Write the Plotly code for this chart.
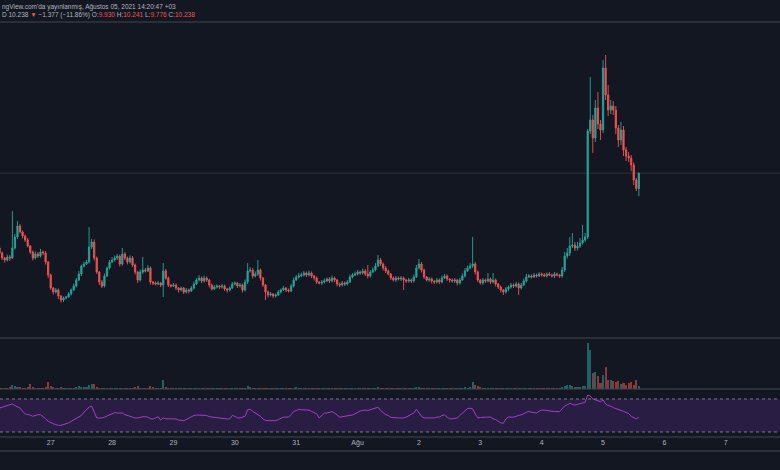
import pandas as pd
import plotly.graph_objects as go

# hourly candles, Jul 26 04:00 -> Aug 5 14:00 (2021)
first_open = 8.74
closes = [
    8.64, 8.54, 8.50, 8.56, 8.54, 8.74, 8.96, 9.18, 9.06, 8.98,
    8.90, 8.78, 8.66, 8.54, 8.62, 8.58, 8.66, 8.64, 8.46, 8.20,
    7.94, 7.86, 7.90, 7.78, 7.70, 7.74, 7.76, 7.82, 7.90, 7.98,
    8.10, 8.22, 8.38, 8.42, 8.46, 8.76, 8.86, 8.54, 8.26, 8.06,
    7.98, 8.18, 8.34, 8.46, 8.50, 8.54, 8.58, 8.42, 8.62, 8.54,
    8.46, 8.54, 8.40, 8.26, 8.10, 8.26, 8.30, 8.28, 8.34, 8.06,
    8.04, 8.02, 8.04, 8.00, 8.28, 8.14, 8.00, 7.98, 8.00, 7.94,
    7.90, 7.94, 7.86, 7.90, 7.88, 7.94, 8.02, 8.10, 8.14, 8.08,
    8.14, 8.10, 8.00, 7.92, 7.96, 7.98, 7.96, 7.98, 7.92, 7.90,
    7.94, 8.02, 8.04, 7.98, 8.00, 7.90, 8.06, 8.28, 8.30, 8.18,
    8.22, 8.30, 8.14, 8.00, 7.86, 7.80, 7.82, 7.78, 7.80, 7.86,
    7.90, 7.94, 7.90, 7.88, 7.98, 8.10, 8.16, 8.18, 8.20, 8.24,
    8.20, 8.24, 8.18, 8.14, 8.06, 8.04, 8.06, 8.08, 8.12, 8.08,
    8.14, 8.10, 8.02, 8.00, 8.04, 8.02, 8.06, 8.16, 8.20, 8.22,
    8.26, 8.24, 8.28, 8.22, 8.18, 8.26, 8.30, 8.38, 8.50, 8.42,
    8.34, 8.28, 8.22, 8.14, 8.10, 8.14, 8.12, 8.14, 8.10, 8.08,
    8.10, 8.08, 8.16, 8.34, 8.42, 8.30, 8.16, 8.10, 8.12, 8.08,
    8.06, 8.10, 8.06, 8.14, 8.18, 8.12, 8.10, 8.08, 8.10, 8.04,
    8.10, 8.18, 8.28, 8.34, 8.38, 8.42, 8.26, 8.10, 8.04, 8.10,
    8.08, 8.12, 8.06, 8.10, 8.02, 7.96, 7.90, 7.86, 7.92, 7.96,
    8.00, 7.98, 8.02, 7.94, 8.00, 8.08, 8.16, 8.18, 8.16, 8.20,
    8.18, 8.22, 8.20, 8.18, 8.22, 8.20, 8.18, 8.22, 8.20, 8.18,
    8.30, 8.58, 8.64, 8.78, 8.80, 8.74, 8.78, 8.84, 8.90, 8.96,
    11.08, 11.30, 10.94, 11.54, 11.22, 11.10, 12.34, 11.80, 11.50, 11.58,
    11.50, 11.14, 10.90, 11.10, 10.70, 10.58, 10.54, 10.40, 10.10, 9.93,
    10.238,
]

# wick lengths above / below the body, in cents
wick_up = [
    4, 3, 2, 5, 4, 74, 6, 10, 4, 3,
    3, 4, 2, 3, 5, 4, 6, 3, 4, 2,
    3, 2, 4, 3, 2, 3, 2, 4, 3, 5,
    4, 6, 3, 5, 4, 40, 6, 5, 3, 2,
    4, 5, 3, 4, 6, 5, 4, 3, 12, 4,
    3, 5, 4, 3, 2, 5, 26, 4, 6, 3,
    2, 3, 4, 2, 16, 4, 3, 2, 4, 3,
    2, 3, 2, 4, 3, 4, 5, 4, 6, 3,
    5, 3, 2, 3, 4, 3, 2, 4, 3, 2,
    3, 4, 3, 2, 4, 3, 5, 16, 6, 4,
    5, 20, 3, 2, 2, 3, 4, 2, 3, 4,
    3, 4, 2, 3, 4, 5, 4, 6, 5, 4,
    3, 5, 3, 2, 3, 2, 4, 5, 3, 4,
    5, 3, 2, 3, 4, 3, 4, 5, 4, 5,
    4, 3, 5, 4, 18, 4, 5, 6, 10, 4,
    3, 4, 3, 2, 3, 4, 3, 4, 3, 2,
    4, 3, 5, 6, 10, 4, 3, 2, 4, 3,
    2, 4, 3, 5, 4, 3, 2, 3, 4, 2,
    4, 5, 6, 5, 6, 54, 4, 3, 2, 4,
    3, 12, 3, 14, 3, 2, 3, 2, 4, 3,
    4, 3, 4, 3, 4, 5, 6, 4, 3, 4,
    3, 4, 3, 4, 3, 4, 3, 4, 3, 2,
    6, 8, 10, 18, 24, 6, 8, 10, 30, 8,
    4, 86, 10, 16, 32, 8, 16, 26, 20, 12,
    10, 8, 6, 16, 8, 6, 8, 6, 5, 4,
    0.3,
]
wick_dn = [
    3, 4, 5, 3, 6, 2, 3, 4, 3, 5,
    4, 3, 4, 5, 3, 4, 3, 4, 5, 6,
    4, 5, 3, 6, 5, 4, 3, 2, 3, 2,
    3, 2, 4, 3, 2, 3, 4, 5, 4, 6,
    4, 3, 2, 3, 2, 3, 4, 5, 3, 4,
    5, 3, 4, 5, 6, 3, 4, 3, 2, 5,
    4, 3, 2, 4, 24, 3, 4, 3, 2, 4,
    5, 3, 4, 3, 5, 2, 3, 2, 3, 4,
    3, 4, 5, 3, 2, 3, 4, 3, 4, 5,
    3, 2, 3, 4, 3, 5, 3, 4, 3, 5,
    3, 4, 5, 4, 16, 5, 3, 4, 3, 2,
    3, 2, 4, 3, 2, 3, 2, 3, 2, 3,
    4, 3, 4, 5, 4, 3, 4, 3, 2, 4,
    3, 4, 5, 4, 3, 4, 3, 2, 3, 2,
    3, 4, 3, 4, 5, 3, 2, 3, 2, 4,
    5, 4, 3, 4, 3, 4, 3, 4, 20, 4,
    3, 4, 3, 2, 3, 5, 4, 3, 4, 5,
    4, 3, 4, 3, 2, 4, 5, 3, 4, 5,
    3, 2, 3, 2, 3, 4, 5, 4, 3, 4,
    4, 3, 4, 3, 5, 4, 5, 6, 3, 4,
    3, 4, 3, 14, 3, 2, 3, 2, 3, 2,
    3, 2, 3, 2, 3, 2, 3, 4, 3, 4,
    3, 4, 5, 6, 4, 6, 5, 4, 3, 4,
    4, 6, 30, 8, 10, 20, 6, 10, 12, 8,
    10, 12, 14, 10, 12, 10, 8, 12, 10, 5,
    15.4,
]

# volume (thousands)
volume = [
    1.5, 1, 1, 1.5, 2, 4, 3, 2.5, 2, 1.5,
    1.5, 2, 5, 2, 1.5, 1.5, 1, 1.5, 2, 7,
    3, 2, 1.5, 1.5, 2, 1.5, 1, 1, 1, 1.5,
    2, 3, 2.5, 2, 2, 4, 5, 5, 2, 1.5,
    1.5, 1.5, 1, 1, 1, 1.5, 1, 1, 1.5, 1,
    1, 1, 1, 2.5, 3, 1.5, 1, 1, 1, 3,
    2, 1, 1, 1.5, 9, 2, 1.5, 1, 1, 1,
    1, 1, 0.8, 0.8, 0.8, 1, 0.8, 0.8, 1, 0.8,
    0.8, 0.8, 1, 1, 0.8, 0.8, 0.8, 0.8, 0.8, 0.8,
    0.8, 1, 0.8, 0.8, 0.8, 1, 1.5, 3, 2, 1,
    1, 1.5, 1, 1, 1.5, 1, 0.8, 0.8, 0.8, 0.8,
    0.8, 0.8, 0.8, 0.8, 1, 1.5, 2, 1.5, 1, 1,
    1, 0.8, 1, 0.8, 1, 1.5, 1, 0.8, 0.8, 0.8,
    0.8, 0.8, 1, 1, 0.8, 0.8, 0.8, 1, 1, 1,
    1, 0.8, 1, 1, 1.5, 1, 1, 1.5, 2, 1.5,
    1, 1, 1, 1, 1, 0.8, 1, 0.8, 1.5, 1,
    1, 0.8, 1, 2, 2, 1.5, 1.5, 1, 0.8, 1,
    1, 0.8, 1, 1, 1, 0.8, 0.8, 0.8, 1, 1,
    1, 1.5, 2, 1.5, 2, 7, 4, 3, 2, 1.5,
    1.5, 1.5, 1, 1.5, 1, 1, 1, 1.5, 1, 1,
    1, 0.8, 1, 1.5, 1, 1.5, 1.5, 1, 1, 1,
    1, 1, 1, 1, 1, 1, 1, 1, 1, 1.5,
    2, 3, 4, 4, 3, 2, 2.5, 2.5, 3, 3,
    46, 39, 16, 17, 13, 6, 14, 22, 9, 9,
    8, 7, 8, 5, 6, 4, 6, 7, 4, 9,
    3,
]

rsi = [
    59, 60, 61, 62, 63, 64, 62, 60, 59, 55,
    52, 51, 50.5, 49, 50, 51, 51, 49, 46, 43,
    41, 40, 39, 38, 38, 39, 40, 41, 43, 45,
    46, 48, 50, 54, 57, 60, 61.5, 55, 47, 47,
    47, 48, 49.5, 50.6, 52, 53.4, 53, 53, 53, 51,
    50, 49, 48, 47, 47, 48, 48.5, 48.5, 48, 46,
    45.8, 47, 48.5, 44.5, 47, 46, 45.8, 46, 45.8, 45.8,
    44.5, 44, 43.7, 45, 47, 48.5, 50, 50.6, 50.6, 50.6,
    50.6, 50, 48.5, 48, 47.5, 47, 46.5, 46, 46, 45.8,
    45.8, 50, 49, 47, 47, 48, 49, 57, 57.5, 55,
    53, 52, 49, 45.8, 44, 43.7, 43.7, 43.7, 43.7, 45,
    47, 48, 48, 48, 51, 55, 56, 57.5, 57, 56.7,
    56.7, 56.5, 55, 53.5, 52, 47, 50, 53, 53, 54,
    54.7, 53, 50, 48, 48.5, 49, 49.5, 50, 50.6, 52,
    54, 55.5, 56, 56.5, 56, 57, 57.5, 58.5, 60, 56,
    53, 51, 50, 47.8, 47.5, 47, 47, 47, 47, 48,
    49.5, 50.6, 53, 57.5, 53, 49, 47, 47, 47, 47,
    47, 48, 48, 50, 50.6, 48, 46, 46, 46.5, 47,
    50, 53, 56, 58.5, 58.7, 58, 52, 47, 47.5, 48,
    48, 48, 48, 46, 45, 43, 41, 40.5, 46, 48,
    48, 48, 49, 50, 50.6, 52, 54, 54.7, 54, 53.5,
    53, 55, 56.5, 56.5, 56, 55, 54.7, 54.7, 54.7, 54.7,
    58, 61.5, 63, 64.7, 63.5, 62.6, 63.5, 64.5, 65.5, 66,
    74.8, 73.5, 70, 68.8, 67, 66.7, 68.8, 64, 62, 61.5,
    59.5, 58.5, 57, 56.5, 55, 53.5, 52.5, 49, 47, 45.8,
    48,
]

day_ticks = ['2021-07-27', '2021-07-28', '2021-07-29', '2021-07-30', '2021-07-31', '2021-08-01',
             '2021-08-02', '2021-08-03', '2021-08-04', '2021-08-05', '2021-08-06', '2021-08-07']
day_labels = ['27', '28', '29', '30', '31', 'Ağu', '2', '3', '4', '5', '6', '7']

times = pd.date_range('2021-07-26 04:00', periods=len(closes), freq='h')
opens = [first_open] + closes[:-1]
highs = [max(o, c) + w / 100 for o, c, w in zip(opens, closes, wick_up)]
lows = [min(o, c) - w / 100 for o, c, w in zip(opens, closes, wick_dn)]

UP = '#26a69a'
DOWN = '#ef5350'
BG = '#131722'
SEP = '#434651'
vol_colors = ['rgba(38,166,154,0.55)' if c >= o else 'rgba(239,83,80,0.55)' for o, c in zip(opens, closes)]

fig = go.Figure()

fig.add_trace(go.Candlestick(
    x=times, open=opens, high=highs, low=lows, close=closes,
    increasing=dict(line=dict(color=UP, width=0.9), fillcolor=UP),
    decreasing=dict(line=dict(color=DOWN, width=0.9), fillcolor=DOWN),
    whiskerwidth=0,
    showlegend=False,
    xaxis='x', yaxis='y',
))

fig.add_trace(go.Bar(
    x=times, y=volume, marker_color=vol_colors, marker_line_width=0,
    width=0.8 * 3600 * 1000,
    showlegend=False,
    xaxis='x', yaxis='y2',
))

fig.add_trace(go.Scatter(
    x=times, y=rsi, mode='lines',
    line=dict(color='#a23fc4', width=1),
    showlegend=False,
    xaxis='x', yaxis='y3',
))

# pane boundaries in pixels (470 px tall page)
def py(px):
    return 1 - px / 470

shapes = []
# separators
for px in [22, 338, 389, 437, 451]:
    shapes.append(dict(type='line', xref='paper', yref='paper', x0=0, x1=1, y0=py(px), y1=py(px),
                       line=dict(color=SEP, width=1)))
# RSI band and 70/30 levels
shapes.append(dict(type='rect', xref='paper', yref='y3', x0=0, x1=1, y0=30, y1=70,
                   fillcolor='rgba(130,55,200,0.2)', line_width=0, layer='below'))
for lvl in [70, 30]:
    shapes.append(dict(type='line', xref='paper', yref='y3', x0=0, x1=1, y0=lvl, y1=lvl,
                       line=dict(color='#787b86', width=1, dash='3px,3px')))
# horizontal line in the price pane
shapes.append(dict(type='line', xref='paper', yref='y', x0=0, x1=1, y0=closes[-1], y1=closes[-1],
                   line=dict(color='#2f333d', width=1), layer='below'))

txt = '#b2b5be'
red = '#ef5350'
header2 = (f"D 10.238 <span style='color:{red}'>▼</span> −1.377 (−11.86%) "
           f"O:<span style='color:{red}'>9.930</span> H:<span style='color:{red}'>10.241</span> "
           f"L:<span style='color:{red}'>9.776</span> C:<span style='color:{red}'>10.238</span>")

fig.update_layout(
    width=780, height=470,
    margin=dict(t=0, b=0, l=0, r=0),
    paper_bgcolor=BG, plot_bgcolor=BG,
    font=dict(family='Liberation Sans', color=txt, size=7),
    shapes=shapes,
    bargap=0,
    hovermode=False,
    xaxis=dict(
        type='date',
        range=['2021-07-26 04:10', '2021-08-07 21:12'],
        tickvals=day_ticks, ticktext=day_labels,
        tickfont=dict(size=7, color=txt),
        showgrid=False, zeroline=False, showline=False, ticks='',
        rangeslider=dict(visible=False),
        anchor='y3', fixedrange=True,
    ),
    yaxis=dict(domain=[py(338), py(22)], range=[6.94, 13.26], visible=False, fixedrange=True),
    yaxis2=dict(domain=[py(389), py(338)], range=[0, 51], visible=False, fixedrange=True),
    yaxis3=dict(domain=[py(437), py(389)], range=[23.9, 82.1], visible=False, fixedrange=True),
    annotations=[
        dict(text="ngView.com'da yayınlanmış, Ağustos 05, 2021 14:20:47 +03",
             xref='paper', yref='paper', x=0, y=py(6.5), xanchor='left', yanchor='middle',
             showarrow=False, font=dict(size=6.5, color=txt)),
        dict(text=header2,
             xref='paper', yref='paper', x=0, y=py(15), xanchor='left', yanchor='middle',
             showarrow=False, font=dict(size=6.5, color=txt)),
    ],
)

# drop the page's default body margin so the chart sits at the window corner
fig.write_html("out.html", config={'displayModeBar': False},
               post_script="document.body.style.margin='0';document.body.style.background='#131722';")
